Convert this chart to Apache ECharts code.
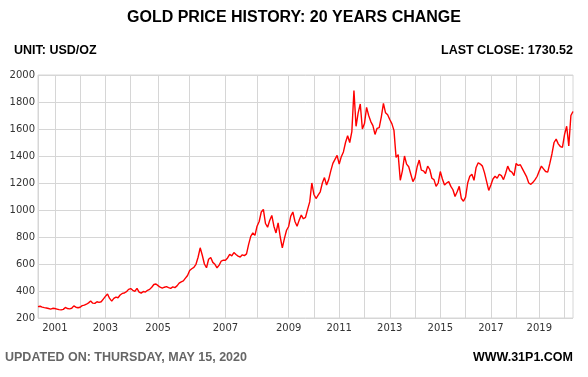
<!DOCTYPE html>
<html>
<head>
<meta charset="utf-8">
<script src="https://cdn.jsdelivr.net/npm/echarts@6/dist/echarts.min.js"></script>
<style>
  html, body { margin: 0; padding: 0; background: #fff; }
  #chart { width: 588px; height: 377px; }
</style>
</head>
<body>
<div id="chart"></div>
<script>
// price readings per year (USD/oz)
const years = [2000, 2001, 2002, 2003, 2004, 2005, 2006, 2007, 2008, 2009, 2010,
  2011, 2012, 2013, 2014, 2015, 2016, 2017, 2018, 2019, 2020];
const p2000 = [284, 287, 281, 277, 274, 270, 266, 272];
const p2001 = [270, 266, 262, 260, 264, 278, 270, 268, 272, 290, 280, 276];
const p2002 = [280, 292, 295, 302, 312, 326, 310, 308, 320, 316, 320, 340];
const p2003 = [360, 378, 345, 325, 345, 355, 350, 370, 382, 385, 395, 412];
const p2004 = [418, 405, 398, 420, 392, 384, 396, 392, 405, 412, 428, 448, 452];
const p2005 = [440, 428, 422, 428, 432, 425, 420, 430, 425, 438, 458, 468, 475, 495, 515];
const p2006 = [552, 565, 575, 598, 650, 720, 665, 600, 572, 635, 648, 612, 598, 572, 592, 622, 628];
const p2007 = [628, 645, 672, 660, 685, 670, 658, 652, 668, 662, 675, 745, 805, 830, 812];
const p2008 = [880, 915, 985, 1005, 900, 872, 922, 960, 880, 830, 905, 800, 720, 790, 850];
const p2009 = [878, 955, 985, 915, 880, 925, 962, 935, 945, 1005, 1060, 1200];
const p2010 = [1115, 1085, 1110, 1135, 1200, 1240, 1185, 1225, 1290, 1345, 1375, 1405];
const p2011 = [1340, 1395, 1430, 1500, 1550, 1500, 1580, 1885, 1620, 1720, 1785, 1600];
const p2012 = [1640, 1760, 1700, 1655, 1625, 1560, 1605, 1610, 1690, 1790, 1720, 1705];
const p2013 = [1670, 1640, 1590, 1390, 1410, 1220, 1290, 1400, 1340, 1320, 1265, 1210];
const p2014 = [1240, 1320, 1370, 1295, 1290, 1270, 1325, 1300, 1235, 1225, 1175, 1200];
const p2015 = [1285, 1230, 1185, 1200, 1210, 1175, 1150, 1100, 1135, 1175, 1085, 1065];
const p2016 = [1095, 1200, 1250, 1265, 1220, 1315, 1350, 1340, 1325, 1275, 1210, 1145];
const p2017 = [1185, 1230, 1250, 1235, 1265, 1255, 1225, 1270, 1325, 1290, 1280, 1255];
const p2018 = [1345, 1330, 1335, 1305, 1275, 1245, 1200, 1190, 1205, 1225, 1250];
const p2019 = [1290, 1325, 1305, 1285, 1280, 1345, 1415, 1500, 1525, 1490, 1470, 1465];
const p2020 = [1560, 1620, 1475, 1700, 1730];
const yearlyPrices = [p2000, p2001, p2002, p2003, p2004, p2005, p2006, p2007, p2008, p2009, p2010,
  p2011, p2012, p2013, p2014, p2015, p2016, p2017, p2018, p2019, p2020];

const labelYears = ['2001', '2003', '2005', '2007', '2009', '2011', '2013', '2015', '2017', '2019'];
const yMin = 200, yMax = 2000, yStep = 200;
const lastClose = '1730.52';
const updatedOn = 'THURSDAY, MAY 15, 2020';

const categories = [];
const prices = [];
years.forEach((y, i) => {
  yearlyPrices[i].forEach((v, k) => {
    categories.push(y + '/' + (k + 1));
    prices.push(v);
  });
});

const isYearStart = value => value.split('/')[1] === '1';

const head = {fontFamily: 'Liberation Sans', fontWeight: 'bold', color: '#000'};

echarts.init(document.getElementById('chart')).setOption({
  animation: false,
  title: [
    {text: 'GOLD PRICE HISTORY: 20 YEARS CHANGE', left: 'center', top: 10, padding: 0,
      textStyle: {...head, fontSize: 16}},
    {text: 'UNIT: USD/OZ', left: 14, top: 44, padding: 0,
      textStyle: {...head, fontSize: 12.5}},
    {text: 'LAST CLOSE: ' + lastClose, right: 15, top: 44, padding: 0,
      textStyle: {...head, fontSize: 12.5}},
    {text: 'UPDATED ON: ' + updatedOn, left: 5, top: 351, padding: 0,
      textStyle: {...head, fontSize: 12.5, color: '#666'}},
    {text: 'WWW.31P1.COM', right: 15, top: 351, padding: 0,
      textStyle: {...head, fontSize: 12.5}}
  ],
  grid: {
    left: 38, right: 15, top: 75, bottom: 59,
    show: true, borderColor: '#d6d6d6', borderWidth: 1
  },
  xAxis: {
    type: 'category',
    data: categories,
    boundaryGap: false,
    axisLine: {show: false},
    axisTick: {show: false},
    axisLabel: {
      interval: (index, value) => isYearStart(value) && labelYears.includes(value.split('/')[0]),
      formatter: value => value.split('/')[0],
      fontFamily: 'DejaVu Sans', fontSize: 10, color: '#333', margin: 5
    },
    splitLine: {
      show: true,
      interval: (index, value) => isYearStart(value),
      lineStyle: {color: '#d6d6d6', width: 1}
    }
  },
  yAxis: {
    type: 'value',
    min: yMin, max: yMax, interval: yStep,
    axisLine: {show: false},
    axisTick: {show: false},
    axisLabel: {
      formatter: value => String(value),
      fontFamily: 'DejaVu Sans', fontSize: 10, color: '#333', margin: 3
    },
    splitLine: {lineStyle: {color: '#d6d6d6', width: 1}}
  },
  series: [{
    type: 'line',
    data: prices,
    showSymbol: false,
    lineStyle: {color: '#ff0000', width: 1.4},
    itemStyle: {color: '#ff0000'}
  }]
});
</script>
</body>
</html>
